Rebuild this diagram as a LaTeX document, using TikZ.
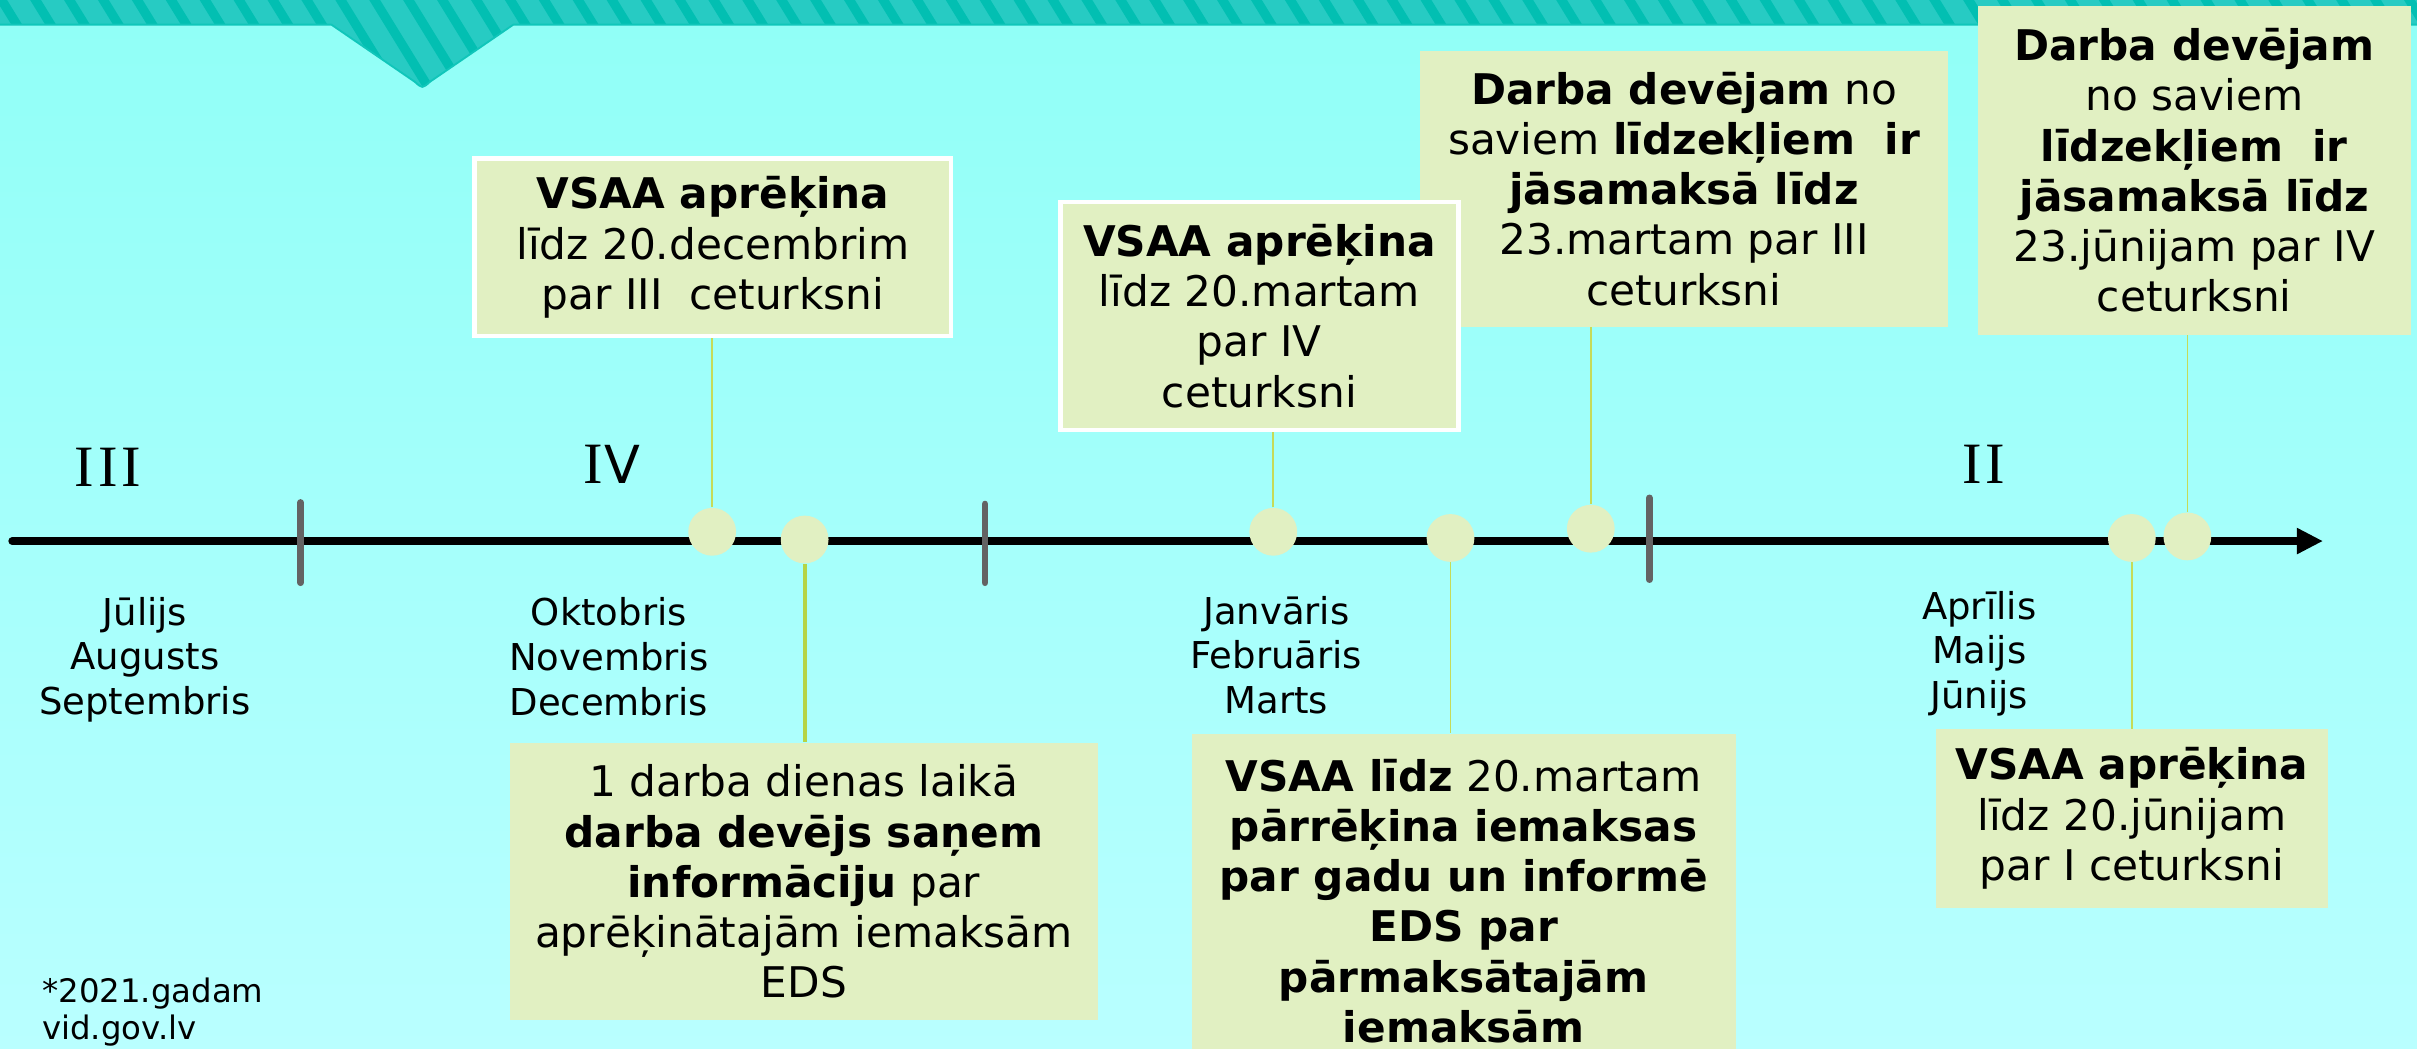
\documentclass[tikz,border=0pt]{standalone}
\usepackage{fontspec}
\setmainfont{DejaVu Sans}
\newfontfamily\romIfont{Liberation Serif}
\usetikzlibrary{arrows.meta}
\definecolor{bgtop}{HTML}{90FFF7}
\definecolor{bgbot}{HTML}{B9FFFF}
\definecolor{bandcol}{HTML}{27CBC3}
\definecolor{stripecol}{HTML}{02BFB2}
\definecolor{edgecol}{HTML}{10C6BA}
\definecolor{boxfill}{HTML}{E1F0C2}
\definecolor{conncol}{HTML}{C6DB58}
\definecolor{conncolb}{HTML}{B5D445}
\definecolor{tickcol}{HTML}{636363}
\newcommand{\romI}{{\romIfont\fontsize{19}{22}\selectfont I}}
\begin{document}
\begin{tikzpicture}[x=0.5pt,y=-0.5pt,
  box/.style={rectangle, fill=boxfill, inner sep=0pt, align=center, font=\fontsize{13.7}{16.3}\selectfont},
  wbox/.style={box, draw=white, line width=1.5pt},
  dot/.style={circle, fill=boxfill, inner sep=0pt, minimum size=15.5pt},
  connline/.style={draw=conncol, line width=0.5pt},
  connthick/.style={draw=conncolb, line width=1.3pt},
  month/.style={align=center, font=\fontsize{12}{14.5}\selectfont, inner sep=0pt},
  roman/.style={font=\fontsize{17}{20}\selectfont, inner sep=0pt},
  tickmark/.style={draw=tickcol, line width=2.2pt, line cap=round}]

\useasboundingbox (0,0) rectangle (1568,680);
\shade[top color=bgtop, bottom color=bgbot] (0,0) rectangle (1568,680);

% top band with notch
\begin{scope}
\path[clip] (0,0) -- (1568,0) -- (1568,16) -- (333,16) -- (279,53) .. controls (274,57.5) .. (269,53) -- (215,16) -- (0,16) -- cycle;
\fill[bandcol] (0,-2) rectangle (1570,62);
\foreach \x in {-90,-68,...,1600} \draw[stripecol, line width=3pt] (\x,-5) -- (\x+43,65);
\end{scope}
\draw[edgecol, line width=0.6pt] (0,16) -- (215,16) -- (269,53) .. controls (274,57.5) .. (279,53) -- (333,16) -- (1568,16);

% timeline
\coordinate (tlS) at (8,351);
\coordinate (tlE) at (1507,351);
\draw[line width=2.6pt, line cap=round, -{Triangle[length=8.5pt,width=8pt]}] (tlS) -- (tlE);

% quarter separators
\draw[tickmark] (195,326) -- (195,378);
\draw[tickmark] (639,327) -- (639,378);
\draw[tickmark] (1070,323) -- (1070,376);

% dots
\node[dot] (d1) at (462,345) {};
\node[dot] (d2) at (522,350) {};
\node[dot] (d3) at (826,345) {};
\node[dot] (d4) at (941,349) {};
\node[dot] (d5) at (1032,343) {};
\node[dot] (d6) at (1383,349) {};
\node[dot] (d7) at (1419,348) {};

% boxes
\node[box, minimum width=171.5pt, minimum height=89.5pt] (b3) at (1092.5,122.5)
  {\textbf{Darba devējam} no\\saviem \textbf{līdzekļiem~ ir}\\\textbf{jāsamaksā līdz}\\23.martam par III\\ceturksni};
\node[wbox, minimum width=154.5pt, minimum height=57.5pt] (b1) at (462.5,160.5)
  {\textbf{VSAA aprēķina}\\līdz 20.decembrim\\par III~ ceturksni};
\node[wbox, minimum width=129pt, minimum height=74pt] (b2) at (817,205)
  {\textbf{VSAA aprēķina}\\līdz 20.martam\\par IV\\ceturksni};
\node[box, minimum width=140.5pt, minimum height=106.5pt] (b4) at (1423.5,110.5)
  {\textbf{Darba devējam}\\no saviem\\\textbf{līdzekļiem~ ir}\\\textbf{jāsamaksā līdz}\\23.jūnijam par IV\\ceturksni};
\node[box, minimum width=190.5pt, minimum height=90pt] (b5) at (521.5,572)
  {1 darba dienas laikā\\\textbf{darba devējs saņem}\\\textbf{informāciju} par\\aprēķinātajām iemaksām\\EDS};
\node[box, minimum width=176.5pt, minimum height=108.5pt] (b6) at (949.5,584.5)
  {\textbf{VSAA līdz} 20.martam\\\textbf{pārrēķina iemaksas}\\\textbf{par gadu un informē}\\\textbf{EDS par}\\\textbf{pārmaksātajām}\\\textbf{iemaksām}};
\node[box, minimum width=127pt, minimum height=58pt] (b7) at (1383,531)
  {\textbf{VSAA aprēķina}\\līdz 20.jūnijam\\par I ceturksni};

% connectors
\draw[connline] (d1.north) -- (d1.north |- b1.south);
\draw[connline] (d3.north) -- (d3.north |- b2.south);
\draw[connline] (d5.north) -- (d5.north |- b3.south);
\draw[connline] (d7.north) -- (d7.north |- b4.south);
\draw[connthick] (d2.south) -- (d2.south |- b5.north);
\draw[connline] (d4.south) -- (d4.south |- b6.north);
\draw[connline] (d6.south) -- (d6.south |- b7.north);

% quarter labels
\node[roman] (q3) at (70,303) {\romI\kern1.2pt\romI\kern1.2pt\romI};
\node[roman] (q4) at (397,301) {\romI\kern0.6pt V};
\node[roman] (q2) at (1287,301) {\romI\kern1.2pt\romI};

% months
\node[month] (m3) at (94,428) {Jūlijs\\Augusts\\Septembris};
\node[month] (m4) at (395,426) {Oktobris\\Novembris\\Decembris};
\node[month] (m1) at (828,425) {Janvāris\\Februāris\\Marts};
\node[month] (m2) at (1284,424) {Aprīlis\\Maijs\\Jūnijs};

% footer
\node[anchor=north west, align=left, inner sep=0pt, font=\fontsize{10.5}{12}\selectfont] (foot) at (27,634) {*2021.gadam\\vid.gov.lv};
\end{tikzpicture}
\end{document}
